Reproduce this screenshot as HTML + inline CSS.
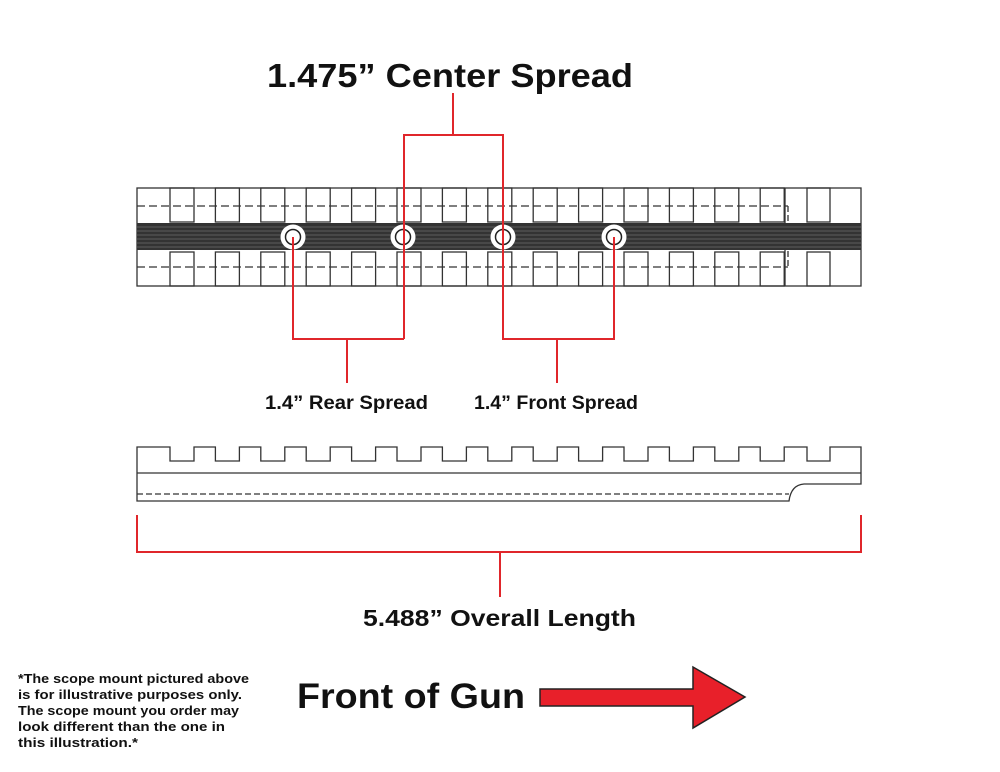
<!DOCTYPE html>
<html><head><meta charset="utf-8"><style>
html,body{margin:0;padding:0;background:#fff;}
svg{display:block;}
text{font-family:"Liberation Sans",sans-serif;font-weight:bold;fill:#111;}
</style></head><body>
<svg width="1000" height="772" viewBox="0 0 1000 772" xmlns="http://www.w3.org/2000/svg">
<text x="267" y="87" font-size="33" textLength="366" lengthAdjust="spacingAndGlyphs">1.475” Center Spread</text>
<!-- top rail -->
<g stroke="#333" stroke-width="1.3" fill="none">
<rect x="137" y="188" width="724" height="98" fill="#fff"/>
<g id="slots">
<rect x="170" y="188" width="24" height="34"/><rect x="215.4" y="188" width="24" height="34"/><rect x="260.8" y="188" width="24" height="34"/><rect x="306.2" y="188" width="24" height="34"/><rect x="351.6" y="188" width="24" height="34"/><rect x="397" y="188" width="24" height="34"/><rect x="442.4" y="188" width="24" height="34"/><rect x="487.8" y="188" width="24" height="34"/><rect x="533.2" y="188" width="24" height="34"/><rect x="578.6" y="188" width="24" height="34"/><rect x="624" y="188" width="24" height="34"/><rect x="669.4" y="188" width="24" height="34"/><rect x="714.8" y="188" width="24" height="34"/><rect x="760.2" y="188" width="24" height="34"/><rect x="807" y="188" width="23" height="34"/>
</g>
<use href="#slots" y="64"/>
<line x1="785" y1="188" x2="785" y2="286"/>
<line x1="137" y1="206" x2="788" y2="206" stroke-dasharray="8,4"/>
<line x1="137" y1="267" x2="788" y2="267" stroke-dasharray="8,4"/>
<line x1="788" y1="206" x2="788" y2="267" stroke-dasharray="6,3"/>
</g>
<rect x="137" y="223" width="724" height="27" fill="#333"/>
<g stroke="#888" stroke-width="0.6">
<line x1="137" y1="227" x2="861" y2="227"/><line x1="137" y1="231" x2="861" y2="231"/><line x1="137" y1="235" x2="861" y2="235"/><line x1="137" y1="239" x2="861" y2="239"/><line x1="137" y1="243" x2="861" y2="243"/><line x1="137" y1="247" x2="861" y2="247"/>
</g>
<g stroke="#222" stroke-width="1.5" fill="#fff">
<circle cx="293" cy="237" r="12.5" stroke="none"/><circle cx="293" cy="237" r="7.5"/>
<circle cx="403" cy="237" r="12.5" stroke="none"/><circle cx="403" cy="237" r="7.5"/>
<circle cx="503" cy="237" r="12.5" stroke="none"/><circle cx="503" cy="237" r="7.5"/>
<circle cx="614" cy="237" r="12.5" stroke="none"/><circle cx="614" cy="237" r="7.5"/>
</g>
<!-- red dimension lines -->
<g stroke="#e0262b" stroke-width="2" fill="none">
<polyline points="453,93 453,135"/>
<polyline points="404,339 404,135 503,135 503,339 614,339 614,237"/>
<polyline points="293,237 293,339 404,339"/>
<line x1="347" y1="339" x2="347" y2="383"/>
<line x1="557" y1="339" x2="557" y2="383"/>
<polyline points="137,515 137,552 861,552 861,515"/>
<line x1="500" y1="552" x2="500" y2="597"/>
</g>
<text x="265" y="409" font-size="19" textLength="163" lengthAdjust="spacingAndGlyphs">1.4” Rear Spread</text>
<text x="474" y="409" font-size="19" textLength="164" lengthAdjust="spacingAndGlyphs">1.4” Front Spread</text>
<!-- side view -->
<g stroke="#333" stroke-width="1.3" fill="none">
<path d="M137,447 L170,447 L170,461 L194,461 L194,447 L215.4,447 L215.4,461 L239.4,461 L239.4,447 L260.8,447 L260.8,461 L284.8,461 L284.8,447 L306.2,447 L306.2,461 L330.2,461 L330.2,447 L351.6,447 L351.6,461 L375.6,461 L375.6,447 L397,447 L397,461 L421,461 L421,447 L442.4,447 L442.4,461 L466.4,461 L466.4,447 L487.8,447 L487.8,461 L511.8,461 L511.8,447 L533.2,447 L533.2,461 L557.2,461 L557.2,447 L578.6,447 L578.6,461 L602.6,461 L602.6,447 L624,447 L624,461 L648,461 L648,447 L669.4,447 L669.4,461 L693.4,461 L693.4,447 L714.8,447 L714.8,461 L738.8,461 L738.8,447 L760.2,447 L760.2,461 L784.2,461 L784.2,447 L807,447 L807,461 L830,461 L830,447 L861,447 L861,484 L804,484 Q791,485 789,501 L137,501 Z"/>
<line x1="137" y1="473" x2="861" y2="473"/>
<line x1="137" y1="494" x2="789" y2="494" stroke-dasharray="6,3"/>
</g>
<text x="363" y="626" font-size="23" textLength="273" lengthAdjust="spacingAndGlyphs">5.488” Overall Length</text>
<g font-size="12.5">
<text x="18" y="683" textLength="231" lengthAdjust="spacingAndGlyphs">*The scope mount pictured above</text>
<text x="18" y="699" textLength="224" lengthAdjust="spacingAndGlyphs">is for illustrative purposes only.</text>
<text x="18" y="715" textLength="221" lengthAdjust="spacingAndGlyphs">The scope mount you order may</text>
<text x="18" y="731" textLength="207" lengthAdjust="spacingAndGlyphs">look different than the one in</text>
<text x="18" y="747" textLength="120" lengthAdjust="spacingAndGlyphs">this illustration.*</text>
</g>
<text x="297" y="708" font-size="35" textLength="228" lengthAdjust="spacingAndGlyphs">Front of Gun</text>
<path d="M540,689 L693,689 L693,667 L745,697 L693,728 L693,706 L540,706 Z" fill="#e8202a" stroke="#222" stroke-width="1.5"/>
</svg>
</body></html>
